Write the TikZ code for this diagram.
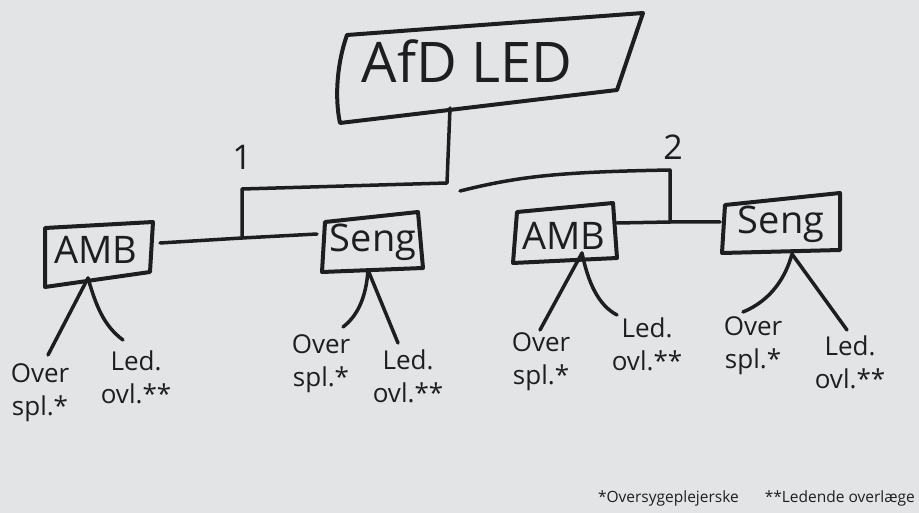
\documentclass[tikz,border=0pt]{standalone}
\usepackage{fontspec}
\setmainfont{Open Sans}
\definecolor{paper}{RGB}{227,228,230}
\definecolor{ink}{RGB}{30,30,30}
\usetikzlibrary{positioning,calc}

\begin{document}
\begin{tikzpicture}[x=1pt, y=-1pt,
      frame/.style={line width=4pt, ink, line join=round, line cap=round},
      conn/.style={line width=3.5pt, ink, line join=round, line cap=round},
      head/.style={font=\fontsize{56}{56}\selectfont, text=ink, inner sep=0pt},
      unit/.style={font=\fontsize{38}{38}\selectfont, text=ink, inner sep=0pt},
      num/.style={font=\fontsize{34}{34}\selectfont, text=ink, inner sep=0pt},
      role/.style={font=\fontsize{26}{33}\selectfont, text=ink, align=center, inner sep=0pt},
      note/.style={font=\fontsize{15.5}{16}\selectfont, text=ink, inner sep=0pt}
    ]
    \useasboundingbox[fill=paper] (0,0) rectangle (919,513);

    \draw[frame] (347,35) -- (643,13) -- (617,90) -- (340,123)
      .. controls (334,95) and (338,60) .. (347,35) -- cycle;
    \node[head] (afd) at (467,61) {AfD LED};

    \draw[frame] (45,228) -- (153,222) -- (150,272) -- (45,287) -- cycle;
    \node[unit] (amb1) at (96,250) {AMB};
    \draw[frame] (325,222) -- (418,212) -- (423,268) -- (322,272) -- cycle;
    \node[unit] (seng1) at (373,242) {Seng};
    \draw[frame] (517,212) -- (613,203) -- (617,258) -- (513,263) -- cycle;
    \node[unit] (amb2) at (564,236) {AMB};
    \draw[frame] (725,205) -- (840,193) -- (840,250) -- (722,253) -- cycle;
    \node[unit] (seng2) at (781,224) {Seng};

    \node[num] (grp1) at (242,157) {1};
    \node[num] (grp2) at (673,147) {2};

    \coordinate (afd-out) at (450,108);
    \coordinate (g1) at (242,238);
    \coordinate (g2) at (670,222);
    \coordinate (amb1-e) at (160,243);
    \coordinate (seng1-w) at (317,234);
    \coordinate (amb2-e) at (617,223);
    \coordinate (seng2-w) at (720,222);
    \coordinate (g2-start) at (460,191);

    \draw[conn] (afd-out) -- (447,183) -- (242,189) -- (g1);
    \draw[conn] (amb1-e) -- (g1) -- (seng1-w);
    \draw[conn] (g2-start) .. controls (520,176) and (560,172) .. (670,170) -- (g2);
    \draw[conn] (amb2-e) -- (g2) -- (seng2-w);

    \node[role] (amb1-over) at (40,393) {Over\\spl.*};
    \node[role] (amb1-led) at (136,377) {Led.\\ovl.**};
    \node[role] (seng1-over) at (321,364) {Over\\spl.*};
    \node[role] (seng1-led) at (408,376) {Led.\\ovl.**};
    \node[role] (amb2-over) at (541,362) {Over\\spl.*};
    \node[role] (amb2-led) at (647,344) {Led.\\ovl.**};
    \node[role] (seng2-over) at (753,346) {Over\\spl.*};
    \node[role] (seng2-led) at (850,362) {Led.\\ovl.**};

    \coordinate (amb1-s) at (88,278);
    \coordinate (seng1-s) at (368,270);
    \coordinate (amb2-s) at (582,253);
    \coordinate (seng2-s) at (792,254);

    \draw[conn] (amb1-s) -- (48,355);
    \draw[conn] (amb1-s) .. controls (96,306) and (104,326) .. (123,340);
    \draw[conn] (seng1-s) .. controls (366,300) and (356,317) .. (343,327);
    \draw[conn] (seng1-s) -- (398,343);
    \draw[conn] (amb2-s) -- (540,330);
    \draw[conn] (amb2-s) .. controls (588,282) and (598,305) .. (617,315);
    \draw[conn] (seng2-s) .. controls (786,276) and (772,300) .. (743,312);
    \draw[conn] (seng2-s) -- (847,330);

    \node[note, anchor=east] (fn1) at (739,498) {*Oversygeplejerske};
    \node[note, anchor=east] (fn2) at (915,498) {**Ledende overlæge};
  \end{tikzpicture}
\end{document}
